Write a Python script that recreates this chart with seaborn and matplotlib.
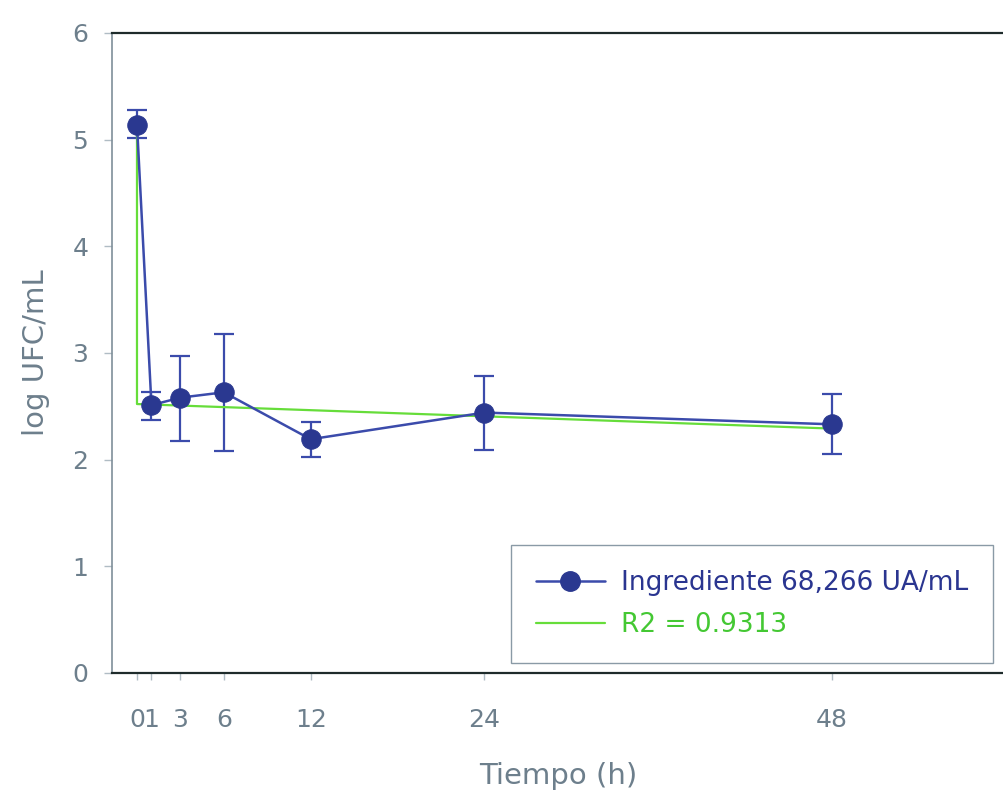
import matplotlib
matplotlib.use("Agg")
import matplotlib.pyplot as plt
from matplotlib.lines import Line2D
import seaborn as sns
import pandas as pd

# ---- data ----
tiempo = [0, 1, 3, 6, 12, 24, 48]
log_ufc = [5.14, 2.51, 2.58, 2.63, 2.19, 2.44, 2.33]
err_up = [5.28, 2.63, 2.97, 3.18, 2.35, 2.78, 2.61]
err_low = [5.01, 2.37, 2.17, 2.08, 2.02, 2.09, 2.05]
fit_x = [0, 0, 48]
fit_y = [5.14, 2.52, 2.29]
xtick_labels = ["0", "1", "3", "6", "12", "24", "48"]
serie_label = "Ingrediente 68,266 UA/mL"
fit_label = "R2 = 0.9313"

BLUE_LINE = "#3b4bab"
BLUE_MK = "#2a3890"
GREEN = "#66dd3a"
GREY = "#6d7f8c"

sns.set_theme(style="white")
plt.rcParams["font.family"] = ["DejaVu Sans"]

fig = plt.figure(figsize=(10.04, 8.01), dpi=100)
ax = fig.add_axes([0.1115, 0.160, 0.890, 0.799])

df = pd.DataFrame({"t": tiempo, "y": log_ufc})
fit_df = pd.DataFrame({"t": fit_x, "y": fit_y})

yerr = [[v - lo for v, lo in zip(log_ufc, err_low)],
        [hi - v for v, hi in zip(log_ufc, err_up)]]
ax.errorbar(tiempo, log_ufc, yerr=yerr, fmt="none", ecolor=BLUE_LINE,
            elinewidth=1.6, capsize=7.5, capthick=1.6, zorder=2)
sns.lineplot(data=fit_df, x="t", y="y", sort=False, estimator=None,
             errorbar=None, ax=ax, color=GREEN, linewidth=1.6, zorder=3)
sns.lineplot(data=df, x="t", y="y", ax=ax, color=BLUE_LINE, linewidth=1.8,
             estimator=None, errorbar=None,
             marker="o", markersize=14, markerfacecolor=BLUE_MK,
             markeredgecolor=BLUE_MK, zorder=4)

ax.set_xlim(-1.73, 60)
ax.set_ylim(0, 6)
ax.set_xticks(tiempo)
ax.set_xticklabels(xtick_labels)
ax.set_yticks(range(0, 7))

ax.tick_params(axis="x", direction="out", length=5, width=1, color="#b0bcc4",
               labelsize=18, labelcolor=GREY, pad=20, bottom=True)
ax.tick_params(axis="y", direction="out", length=6, width=1, color="#b0bcc4",
               labelsize=18, labelcolor=GREY, pad=11, left=True)

ax.set_xlabel("Tiempo (h)", fontsize=21, color=GREY, labelpad=22)
ax.set_ylabel("log UFC/mL", fontsize=21, color=GREY, labelpad=16)

ax.spines["right"].set_visible(False)
ax.spines["top"].set_color("#1e2b2b")
ax.spines["top"].set_linewidth(1.6)
ax.spines["bottom"].set_color("#1e2b2b")
ax.spines["bottom"].set_linewidth(1.6)
ax.spines["left"].set_color("#7f8f99")
ax.spines["left"].set_linewidth(1.2)

handles = [
    Line2D([], [], color=BLUE_LINE, linewidth=1.8, marker="o", markersize=14,
           markerfacecolor=BLUE_MK, markeredgecolor=BLUE_MK),
    Line2D([], [], color=GREEN, linewidth=1.6),
]
leg = ax.legend(handles, [serie_label, fit_label], loc="upper left",
                bbox_to_anchor=(511 / 1004, 1 - 545 / 801),
                bbox_transform=fig.transFigure,
                fontsize=19, frameon=True, fancybox=False, framealpha=1,
                edgecolor="#8a9aa6", handlelength=2.6, handletextpad=0.6,
                labelspacing=0.6, borderpad=0.95, borderaxespad=0,
                labelcolor=["#2a3590", "#44c833"])
leg.get_frame().set_linewidth(1.0)

fig.savefig("out.png", dpi=100, facecolor="white")
